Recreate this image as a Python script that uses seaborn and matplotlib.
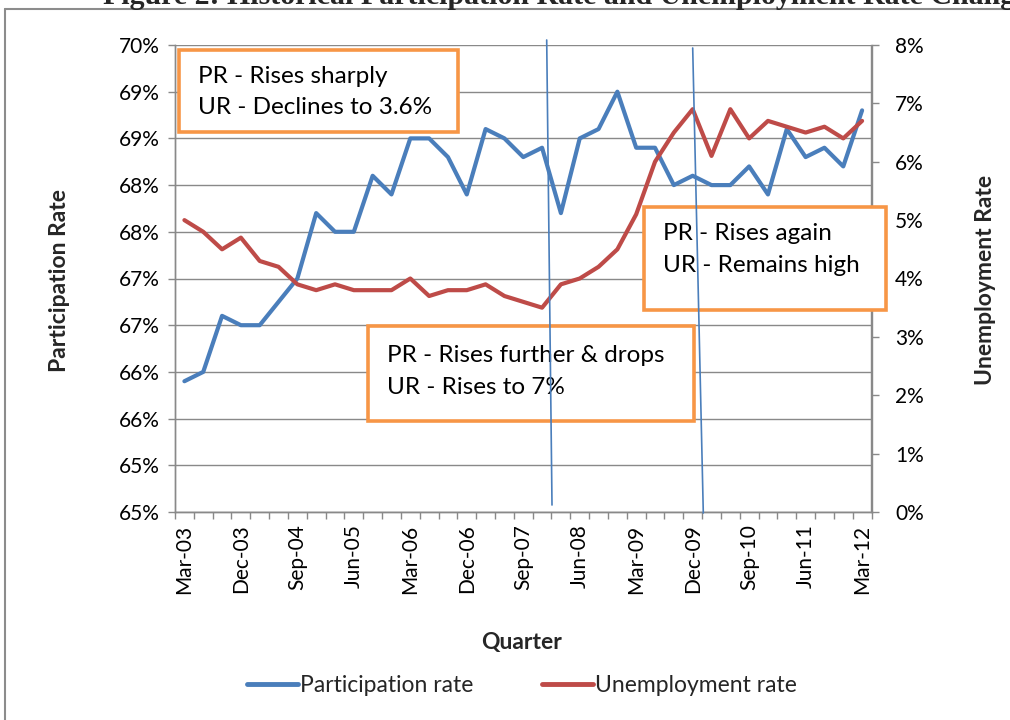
import numpy as np
import pandas as pd
import matplotlib
matplotlib.use("Agg")
import matplotlib.pyplot as plt
import seaborn as sns
from matplotlib.patches import Rectangle
from matplotlib.lines import Line2D
from matplotlib.ticker import FixedLocator

quarters = ["Mar-03", "Jun-03", "Sep-03", "Dec-03", "Mar-04", "Jun-04", "Sep-04", "Dec-04",
            "Mar-05", "Jun-05", "Sep-05", "Dec-05", "Mar-06", "Jun-06", "Sep-06", "Dec-06",
            "Mar-07", "Jun-07", "Sep-07", "Dec-07", "Mar-08", "Jun-08", "Sep-08", "Dec-08",
            "Mar-09", "Jun-09", "Sep-09", "Dec-09", "Mar-10", "Jun-10", "Sep-10", "Dec-10",
            "Mar-11", "Jun-11", "Sep-11", "Dec-11", "Mar-12"]

participation = [65.9, 66.0, 66.6, 66.5, 66.5, 66.75, 67.0, 67.7, 67.5, 67.5, 68.1, 67.9,
                 68.5, 68.5, 68.3, 67.9, 68.6, 68.5, 68.3, 68.4, 67.7, 68.5, 68.6, 69.0,
                 68.4, 68.4, 68.0, 68.1, 68.0, 68.0, 68.2, 67.9, 68.6, 68.3, 68.4, 68.2, 68.8]

unemployment = [5.0, 4.8, 4.5, 4.7, 4.3, 4.2, 3.9, 3.8, 3.9, 3.8, 3.8, 3.8,
                4.0, 3.7, 3.8, 3.8, 3.9, 3.7, 3.6, 3.5, 3.9, 4.0, 4.2, 4.5,
                5.1, 6.0, 6.5, 6.9, 6.1, 6.9, 6.4, 6.7, 6.6, 6.5, 6.6, 6.4, 6.7]

left_ticks = [64.5, 65.0, 65.5, 66.0, 66.5, 67.0, 67.5, 68.0, 68.5, 69.0, 69.5]
left_labels = ["65%", "65%", "66%", "66%", "67%", "67%", "68%", "68%", "69%", "69%", "70%"]
right_ticks = [0, 1, 2, 3, 4, 5, 6, 7, 8]
right_labels = ["0%", "1%", "2%", "3%", "4%", "5%", "6%", "7%", "8%"]

notes = [
    ["PR - Rises sharply", "UR - Declines to 3.6%"],
    ["PR - Rises further & drops", "UR - Rises to 7%"],
    ["PR - Rises again", "UR - Remains high"],
]

blue = "#4A7EBB"
red = "#BE4B48"
grid_c = "#898989"
orange = "#F79646"

sns.set_theme(style="white")
plt.rcParams["font.family"] = ["Lato", "DejaVu Sans"]

df = pd.DataFrame({"pos": np.arange(len(quarters)), "quarter": quarters,
                   "pr": participation, "ur": unemployment})

W, H = 1010, 720
fig = plt.figure(figsize=(W / 100, H / 100), dpi=100)
L, R, T, B = 175, 871.5, 45, 512
ax = fig.add_axes([L / W, 1 - B / H, (R - L) / W, (B - T) / H])
ax2 = ax.twinx()
ax2.set_position(ax.get_position())

sns.lineplot(data=df, x="pos", y="pr", ax=ax, color=blue, linewidth=3.0, legend=False)
sns.lineplot(data=df, x="pos", y="ur", ax=ax2, color=red, linewidth=3.0, legend=False)
ax2.patch.set_visible(False)

n = len(quarters)
ax.set_xlim(-0.5, n - 0.5)
ax.set_ylim(left_ticks[0], left_ticks[-1])
ax2.set_ylim(right_ticks[0], right_ticks[-1])

ax.set_yticks(left_ticks)
ax.set_yticklabels(left_labels)
ax2.set_yticks(right_ticks)
ax2.set_yticklabels(right_labels)

major = list(range(0, n, 3))
ax.set_xticks(major)
ax.set_xticklabels([quarters[i] for i in major], rotation=90)
ax.xaxis.set_minor_locator(FixedLocator(np.arange(-0.5, n, 1.0)))
ax.tick_params(axis="x", which="major", length=0, pad=9, labelsize=15, colors="black")
ax.tick_params(axis="x", which="minor", length=5, width=1, color=grid_c, direction="out", bottom=True)
ax.tick_params(axis="y", which="major", length=5, width=1, color=grid_c, direction="out",
               left=True, labelsize=15, pad=6, labelcolor="black")
ax2.tick_params(axis="y", which="major", length=5, width=1, color=grid_c, direction="out",
                right=True, labelsize=15, pad=12, labelcolor="black")
ax.set_xlabel("")
ax.set_ylabel("")
ax2.set_ylabel("")

ax.yaxis.grid(True, color=grid_c, linewidth=1.0)
ax.xaxis.grid(False)
for a in (ax, ax2):
    a.spines["top"].set_visible(False)
    a.spines["left"].set_color(grid_c)
    a.spines["bottom"].set_color(grid_c)
    a.spines["right"].set_color(grid_c)
    for s in a.spines.values():
        s.set_linewidth(1.0)

# annotation boxes (pixel geometry converted to axes fraction)
def fx(x):
    return (x - L) / (R - L)

def fy(y):
    return (B - y) / (B - T)

boxes = [(179, 50, 458, 132, 198, 83, 114),
         (368, 326, 694, 421, 387, 362, 394),
         (644, 207, 886, 310, 663, 240, 272)]
for (x0, y0, x1, y1, tx, b1, b2), lines in zip(boxes, notes):
    rect = Rectangle((fx(x0), fy(y1)), fx(x1) - fx(x0), fy(y0) - fy(y1), transform=ax2.transAxes,
                     facecolor="white", edgecolor=orange, linewidth=2.6, zorder=5, clip_on=False)
    ax2.add_patch(rect)
    ax2.text(fx(tx), fy(b1), lines[0], transform=ax2.transAxes, fontsize=17.5, va="baseline",
             ha="left", color="black", zorder=6)
    ax2.text(fx(tx), fy(b2), lines[1], transform=ax2.transAxes, fontsize=17.5, va="baseline",
             ha="left", color="black", zorder=6)

# drawn vertical marker lines
for (xa, ya, xb, yb) in [(546.7, 40, 552, 505), (692.7, 48, 703.3, 513)]:
    ax2.add_line(Line2D([fx(xa), fx(xb)], [fy(ya), fy(yb)], transform=ax2.transAxes,
                        color=blue, linewidth=1.2, zorder=7, clip_on=False))

# axis titles
fig.text(60 / W, 1 - 281 / H, "Participation Rate", rotation=90, ha="center", va="center",
         fontsize=16.5, fontweight="bold")
fig.text(985 / W, 1 - 280 / H, "Unemployment Rate", rotation=90, ha="center", va="center",
         fontsize=16.5, fontweight="bold")
fig.text(522 / W, 1 - 643 / H, "Quarter", ha="center", va="center", fontsize=16.5, fontweight="bold")

# legend
handles = [Line2D([], [], color=blue, linewidth=3.5, solid_capstyle="round"),
           Line2D([], [], color=red, linewidth=3.5, solid_capstyle="round")]
fig.legend(handles, ["Participation rate", "Unemployment rate"], loc="center",
           bbox_to_anchor=(522 / W, 1 - 686 / H), ncol=2, frameon=False, fontsize=16.5,
           handlelength=2.2, handletextpad=0.1, columnspacing=3.0)

# outer frame & title (cropped at the top edge as in the source)
fig.add_artist(Line2D([5 / W, 1.0], [1 - 9 / H, 1 - 9 / H], transform=fig.transFigure,
                      color="#8c8c8c", linewidth=1.5))
fig.add_artist(Line2D([5 / W, 5 / W], [1 - 9 / H, 0.0], transform=fig.transFigure,
                      color="#8c8c8c", linewidth=1.5))
fig.text(103 / W, 1 - 4 / H, "Figure 2: Historical Participation Rate and Unemployment Rate Change",
         ha="left", va="baseline", fontsize=21.5, fontweight="bold",
         family=["Liberation Serif", "DejaVu Serif"])

fig.savefig("out.png", dpi=100)
